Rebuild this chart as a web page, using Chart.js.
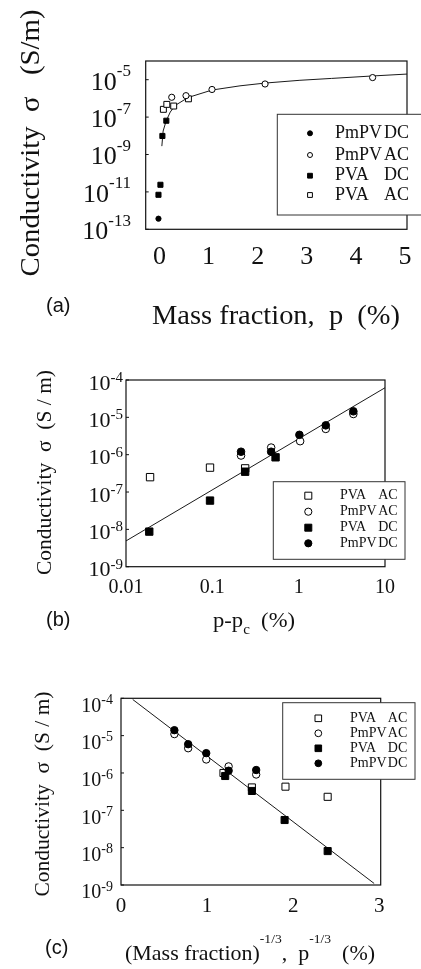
<!DOCTYPE html>
<html>
<head>
<meta charset="utf-8">
<script src="https://cdn.jsdelivr.net/npm/chart.js@4.4.1/dist/chart.umd.min.js"></script>
<style>
  body { margin: 0; background: #fff; }
  #page { position: relative; width: 421px; height: 969px; overflow: hidden; }
  canvas { position: absolute; left: 0; }
</style>
</head>
<body>
<div id="page">
  <canvas id="chart-a" width="421" height="330" style="top:0px"></canvas>
  <canvas id="chart-b" width="421" height="320" style="top:330px"></canvas>
  <canvas id="chart-c" width="421" height="329" style="top:640px"></canvas>
</div>
<script>
// (a) conductivity vs mass fraction p (%)
var aPmpvDcX = [-0.02]
var aPmpvDcY = [3.7e-13]
var aPmpvAcX = [0.25, 0.54, 1.07, 2.15, 4.34]
var aPmpvAcY = [1.15e-6, 1.4e-6, 3.0e-6, 5.9e-6, 1.3e-5]
var aPvaDcX = [-0.02, 0.02, 0.06, 0.14]
var aPvaDcY = [7e-12, 2.4e-11, 9.8e-9, 6.4e-8]
var aPvaAcX = [0.08, 0.15, 0.29, 0.59]
var aPvaAcY = [2.6e-7, 4.8e-7, 3.9e-7, 9.5e-7]
var aFitX = [0.049, 0.075, 0.136, 0.22, 0.32, 0.585, 1.07, 1.64, 2.15, 2.86, 3.5, 4.33, 5.04]
var aFitY = [2.8e-9, 1.8e-8, 6.2e-8, 1.86e-7, 4.2e-7, 1.12e-6, 2.8e-6, 4.7e-6, 6.6e-6, 9.3e-6, 1.17e-5, 1.58e-5, 2.0e-5]
var aXTicks = [0, 1, 2, 3, 4, 5]
var aYTicks = [1e-13, 1e-11, 1e-9, 1e-7, 1e-5]

// (b) conductivity vs p - pc (%)
var bPvaAcX = [0.019, 0.094, 0.24]
var bPvaAcY = [2.5e-7, 4.5e-7, 4.3e-7]
var bPmpvAcX = [0.215, 0.48, 1.04, 2.06, 4.3]
var bPmpvAcY = [9.5e-7, 1.55e-6, 2.3e-6, 4.9e-6, 1.23e-5]
var bPvaDcX = [0.0186, 0.094, 0.24, 0.54]
var bPvaDcY = [8.7e-9, 5.9e-8, 3.5e-7, 8.5e-7]
var bPmpvDcX = [0.215, 0.48, 1.02, 2.06, 4.3]
var bPmpvDcY = [1.2e-6, 1.2e-6, 3.4e-6, 6.1e-6, 1.45e-5]
var bFitX = [0.01, 10]
var bFitY = [4.9e-9, 6.2e-5]
var bXTicks = [0.01, 0.1, 1, 10]
var bXLabels = ['0.01', '0.1', '1', '10']
var bYTicks = [1e-9, 1e-8, 1e-7, 1e-6, 1e-5, 1e-4]

// (c) conductivity vs p^-1/3
var cPvaAcX = [1.19, 1.52, 1.91, 2.4]
var cPvaAcY = [1.0e-6, 4.1e-7, 4.3e-7, 2.3e-7]
var cPmpvAcX = [0.62, 0.78, 0.99, 1.25, 1.57]
var cPmpvAcY = [1.1e-5, 4.6e-6, 2.3e-6, 1.5e-6, 9.1e-7]
var cPvaDcX = [1.21, 1.52, 1.9, 2.4]
var cPvaDcY = [8.3e-7, 3.3e-7, 5.5e-8, 8.1e-9]
var cPmpvDcX = [0.62, 0.78, 0.99, 1.25, 1.57]
var cPmpvDcY = [1.4e-5, 5.9e-6, 3.4e-6, 1.15e-6, 1.2e-6]
var cFitX = [0.136, 2.94]
var cFitY = [9.3e-5, 1.1e-9]
var cXTicks = [0, 1, 2, 3]
var cYTicks = [1e-9, 1e-8, 1e-7, 1e-6, 1e-5, 1e-4]

var SERIF = '"Liberation Serif", "Times New Roman", serif'
var SANS = '"Liberation Sans", Arial, sans-serif'
var INK = '#111'

function pts(xs, ys) {
  return xs.map((x, i) => ({ x: x, y: ys[i] }))
}

function marks(label, xs, ys, style, filled, r) {
  return {
    label: label,
    data: pts(xs, ys),
    pointStyle: style,
    pointRadius: r,
    pointBackgroundColor: filled ? '#000' : '#fff',
    pointBorderColor: '#000',
    pointBorderWidth: 1,
    showLine: false
  }
}

function fitLine(xs, ys) {
  return {
    label: 'fit',
    data: pts(xs, ys),
    showLine: true,
    pointRadius: 0,
    borderColor: '#1a1a1a',
    borderWidth: 1,
    tension: 0,
    fill: false
  }
}

// text made of pieces [text, size, dy], e.g. 10 with superscript
function rich(ctx, parts, x, y, align, width, rot) {
  let widths = parts.map(p => {
    ctx.font = p[1] + 'px ' + SERIF
    return ctx.measureText(p[0]).width
  })
  let total = widths.reduce((s, w) => s + w, 0)
  ctx.save()
  ctx.translate(x, y)
  if (rot) ctx.rotate(rot)
  if (width) ctx.scale(width / total, 1)
  let cx = align == 'right' ? -total : align == 'center' ? -total / 2 : 0
  ctx.textAlign = 'left'
  ctx.textBaseline = 'middle'
  parts.forEach((p, i) => {
    ctx.font = p[1] + 'px ' + SERIF
    ctx.fillText(p[0], cx, p[2])
    cx += widths[i]
  })
  ctx.restore()
}

function drawMark(ctx, ds, x, y, r) {
  ctx.beginPath()
  if (ds.pointStyle == 'rect') ctx.rect(x - r, y - r, 2 * r, 2 * r)
  else ctx.arc(x, y, r, 0, Math.PI * 2)
  ctx.fillStyle = ds.pointBackgroundColor
  ctx.fill()
  ctx.lineWidth = 1
  ctx.strokeStyle = '#000'
  ctx.stroke()
}

function panelPlugin(cfg) {
  return {
    id: 'panel',
    afterDraw(chart) {
      let ctx = chart.ctx
      let a = chart.chartArea
      let xs = chart.scales.x
      let ys = chart.scales.y

      ctx.save()
      ctx.fillStyle = INK
      ctx.strokeStyle = INK

      // frame
      ctx.lineWidth = 1.2
      ctx.strokeRect(a.left, a.top, a.right - a.left, a.bottom - a.top)

      // y ticks, labels as 10^n
      cfg.yTicks.forEach(v => {
        let y = ys.getPixelForValue(v)
        ctx.lineWidth = 1
        ctx.beginPath()
        ctx.moveTo(a.left, y)
        ctx.lineTo(a.left + 3, y)
        ctx.stroke()
        let e = String(Math.round(Math.log10(v)))
        rich(ctx, [['10', cfg.tenSize, 0], [e, cfg.supSize, cfg.supDy]],
          cfg.yLabelRight, y + cfg.yLabelDy, 'right')
      })

      // x tick labels
      cfg.xTicks.forEach((v, i) => {
        let x = xs.getPixelForValue(v)
        rich(ctx, [[cfg.xLabels[i], cfg.xSize, 0]], x, cfg.xLabelY, 'center')
      })

      // axis titles
      rich(ctx, [[cfg.yTitle, cfg.yTitleSize, 0]], cfg.yTitleX, cfg.yTitleY,
        'center', cfg.yTitleW, -Math.PI / 2)
      rich(ctx, cfg.xTitle, cfg.xTitleX, cfg.xTitleY, 'center', cfg.xTitleW)

      // panel tag
      ctx.font = cfg.tagSize + 'px ' + SANS
      ctx.textAlign = 'center'
      ctx.textBaseline = 'middle'
      ctx.fillText(cfg.tag, cfg.tagX, cfg.tagY)

      // legend
      let L = cfg.legend
      let b = L.box
      ctx.fillStyle = '#fff'
      ctx.fillRect(b[0], b[1], b[2] - b[0], b[3] - b[1])
      ctx.strokeStyle = '#333'
      ctx.lineWidth = 1
      ctx.strokeRect(b[0], b[1], b[2] - b[0], b[3] - b[1])

      L.order.forEach((label, i) => {
        let ds = chart.data.datasets.find(d => d.label == label)
        let y = L.rows[i]
        drawMark(ctx, ds, L.markX, y, ds.pointStyle == 'rect' ? L.sq : L.dot)
        let words = label.split(' ')
        ctx.fillStyle = INK
        ctx.font = L.size + 'px ' + SERIF
        ctx.textBaseline = 'middle'
        ctx.textAlign = 'left'
        ctx.fillText(words[0], L.textX, y)
        ctx.textAlign = L.secondAlign
        ctx.fillText(words[1], L.secondX, y)
      })

      ctx.restore()
    }
  }
}

function makeChart(id, datasets, xScale, yScale, padding, cfg) {
  return new Chart(document.getElementById(id), {
    type: 'scatter',
    data: { datasets: datasets },
    options: {
      responsive: false,
      animation: false,
      devicePixelRatio: 1,
      layout: { padding: padding },
      plugins: {
        legend: { display: false },
        tooltip: { enabled: false }
      },
      scales: {
        x: Object.assign({ display: false }, xScale),
        y: Object.assign({ display: false }, yScale)
      }
    },
    plugins: [panelPlugin(cfg)]
  })
}

// (a)
var chartA = makeChart('chart-a', [
  marks('PmPV AC', aPmpvAcX, aPmpvAcY, 'circle', false, 3.1),
  marks('PVA AC', aPvaAcX, aPvaAcY, 'rect', false, 4.2),
  marks('PVA DC', aPvaDcX, aPvaDcY, 'rect', true, 3.6),
  marks('PmPV DC', aPmpvDcX, aPmpvDcY, 'circle', true, 2.6),
  fitLine(aFitX, aFitY)
], { type: 'linear', min: -0.28, max: 5.04 },
  { type: 'logarithmic', min: 1e-13, max: 1e-4 },
  { left: 145.7, top: 61, right: 14, bottom: 100.7 },
  {
    yTicks: aYTicks, yLabelRight: 131, yLabelDy: 3, tenSize: 26, supSize: 17, supDy: -11,
    xTicks: aXTicks, xLabels: aXTicks.map(String), xLabelY: 257, xSize: 26,
    yTitle: 'Conductivity  σ   (S/m)', yTitleSize: 27, yTitleX: 32, yTitleY: 143, yTitleW: 267,
    xTitle: [['Mass fraction,  p  (%)', 27, 0]], xTitleX: 276, xTitleY: 317, xTitleW: 248,
    tag: '(a)', tagX: 58.3, tagY: 306.7, tagSize: 20,
    legend: {
      box: [277.3, 114.3, 430, 215], markX: 310, rows: [133.3, 155, 175.7, 195],
      order: ['PmPV DC', 'PmPV AC', 'PVA DC', 'PVA AC'],
      textX: 335, secondX: 384, secondAlign: 'left', size: 18, dot: 2.5, sq: 2.4
    }
  })

// (b)
var chartB = makeChart('chart-b', [
  marks('PmPV DC', bPmpvDcX, bPmpvDcY, 'circle', true, 3.8),
  marks('PVA DC', bPvaDcX, bPvaDcY, 'rect', true, 5.2),
  marks('PmPV AC', bPmpvAcX, bPmpvAcY, 'circle', false, 3.8),
  marks('PVA AC', bPvaAcX, bPvaAcY, 'rect', false, 5.2),
  fitLine(bFitX, bFitY)
], { type: 'logarithmic', min: 0.01, max: 10 },
  { type: 'logarithmic', min: 1e-9, max: 1e-4 },
  { left: 126, top: 50, right: 36, bottom: 83.3 },
  {
    yTicks: bYTicks, yLabelRight: 123, yLabelDy: 4, tenSize: 22, supSize: 15, supDy: -6,
    xTicks: bXTicks, xLabels: bXLabels, xLabelY: 257.5, xSize: 20,
    yTitle: 'Conductivity  σ  (S / m)', yTitleSize: 21, yTitleX: 45, yTitleY: 142.5, yTitleW: 205,
    xTitle: [['p-p', 21, 0], ['c', 14, 9], ['  (%)', 21, 0]], xTitleX: 254, xTitleY: 291, xTitleW: 82,
    tag: '(b)', tagX: 58.3, tagY: 290, tagSize: 20,
    legend: {
      box: [273.3, 151.7, 405, 229.3], markX: 308.3, rows: [165.7, 181.7, 197.7, 213.3],
      order: ['PVA AC', 'PmPV AC', 'PVA DC', 'PmPV DC'],
      textX: 340, secondX: 397.7, secondAlign: 'right', size: 14, dot: 3.6, sq: 3.5
    }
  })

// (c)
var chartC = makeChart('chart-c', [
  marks('PmPV DC', cPmpvDcX, cPmpvDcY, 'circle', true, 3.7),
  marks('PVA DC', cPvaDcX, cPvaDcY, 'rect', true, 5.0),
  marks('PmPV AC', cPmpvAcX, cPmpvAcY, 'circle', false, 3.7),
  marks('PVA AC', cPvaAcX, cPvaAcY, 'rect', false, 5.0),
  fitLine(cFitX, cFitY)
], { type: 'linear', min: 0, max: 3.016 },
  { type: 'logarithmic', min: 1e-9, max: 1e-4 },
  { left: 121, top: 58.3, right: 40.3, bottom: 84 },
  {
    yTicks: cYTicks, yLabelRight: 113, yLabelDy: 8, tenSize: 20, supSize: 14, supDy: -6,
    xTicks: cXTicks, xLabels: cXTicks.map(String), xLabelY: 266.7, xSize: 21,
    yTitle: 'Conductivity  σ  (S / m)', yTitleSize: 21, yTitleX: 43.3, yTitleY: 154, yTitleW: 205,
    xTitle: [['(Mass fraction)', 21, 0], ['-1/3', 13, -14], [',  p', 21, 0], ['-1/3', 13, -14], ['  (%)', 21, 0]],
    xTitleX: 250, xTitleY: 314, xTitleW: 250,
    tag: '(c)', tagX: 56.7, tagY: 308, tagSize: 20,
    legend: {
      box: [282.7, 62.7, 415, 139.3], markX: 318.3, rows: [78.3, 93.3, 108.3, 123.3],
      order: ['PVA AC', 'PmPV AC', 'PVA DC', 'PmPV DC'],
      textX: 350, secondX: 407.3, secondAlign: 'right', size: 14, dot: 3.4, sq: 3.3
    }
  })
</script>
</body>
</html>
